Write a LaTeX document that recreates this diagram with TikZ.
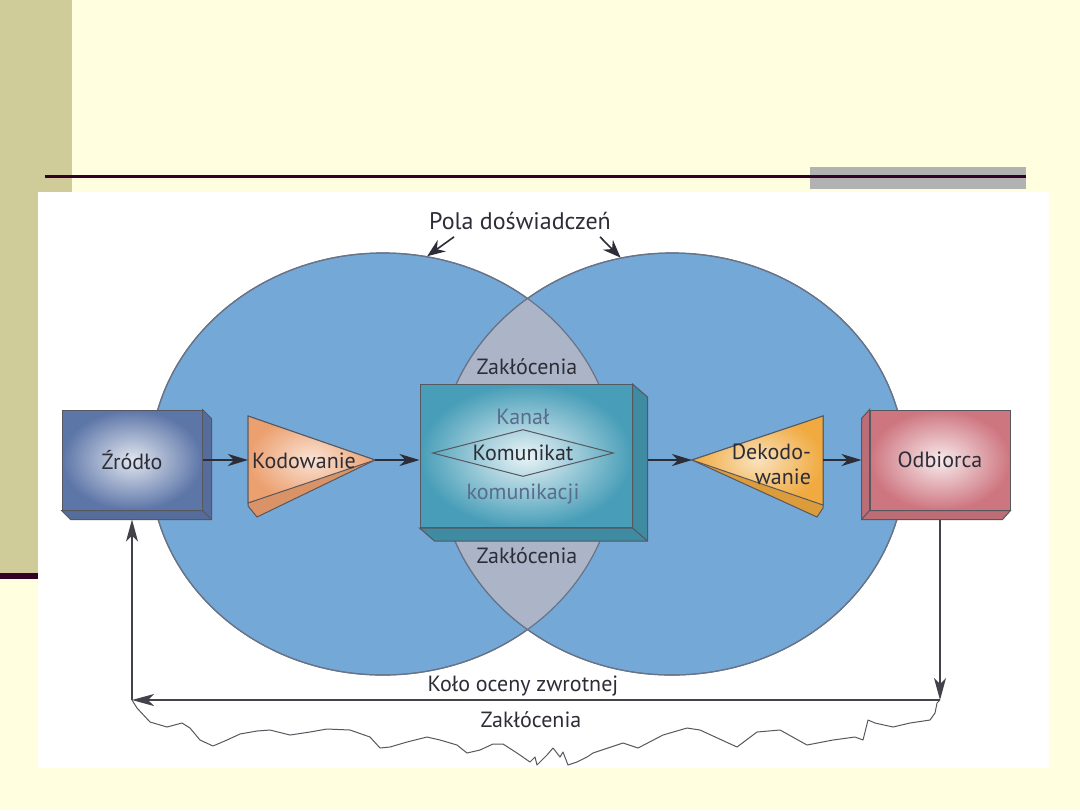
\documentclass[tikz,border=0pt]{standalone}
\usepackage{fontspec}
\setmainfont{PT Sans}
\definecolor{slidebg}{RGB}{255,255,224}
\definecolor{slidebar}{RGB}{207,204,154}
\definecolor{slideline}{RGB}{51,0,38}
\definecolor{slidegray}{RGB}{178,178,178}
\definecolor{fieldblue}{RGB}{116,168,215}
\definecolor{fieldlens}{RGB}{172,181,199}
\definecolor{fieldedge}{RGB}{105,115,135}
\definecolor{inkdark}{RGB}{45,45,55}
\definecolor{srcblue}{RGB}{93,118,168}
\definecolor{chanteal}{RGB}{72,158,184}
\definecolor{recvrose}{RGB}{206,118,128}
\definecolor{encorange}{RGB}{236,160,112}
\definecolor{decgold}{RGB}{240,170,64}
\definecolor{chantext}{RGB}{88,108,140}
\usetikzlibrary{shapes, arrows.meta, positioning, calc}

\begin{document}
\begin{tikzpicture}[x=0.5pt, y=-0.5pt,
    font=\fontsize{11}{12.5}\selectfont, text=inkdark,
    field/.style={ellipse, minimum width=233pt, minimum height=211pt,
        fill=fieldblue, draw=fieldedge, line width=0.6pt},
    block/.style={rectangle, draw=inkdark!80, line width=0.5pt, inner sep=0pt},
    depth/.style={draw=inkdark!80, line width=0.5pt},
    conn/.style={-{Stealth[length=10pt, width=6pt, inset=3pt]}, draw=inkdark, line width=0.6pt},
    ptr/.style={-{Stealth[length=9pt, width=7pt, inset=3pt]}, draw=inkdark, line width=0.8pt},
    fb/.style={-{Stealth[length=11pt, width=6pt, inset=3pt]}, draw=inkdark!90, line width=0.6pt},
    noise/.style={draw=inkdark!80, line width=0.5pt, line join=round}]

    % slide background
    \fill[slidebg] (0,0) rectangle (1080,810);
    \fill[slidebar] (0,0) rectangle (72,192);
    \fill[slidebar] (0,192) rectangle (38,573);
    \fill[slideline] (0,573) rectangle (38,579);
    \fill[white] (38,192) rectangle (1049,768);
    \fill[slidegray] (810,167) rectangle (1026,189);
    \fill[slideline] (45,175) rectangle (1026,178);

    % fields of experience
    \node[field] (lfield) at (383,464) {};
    \node[field] (rfield) at (672,464) {};
    \begin{scope}
        \clip (lfield.center) ellipse [x radius=116.5pt, y radius=105.5pt];
        \fill[fieldlens] (rfield.center) ellipse [x radius=116.5pt, y radius=105.5pt];
    \end{scope}
    \draw[fieldedge, line width=0.6pt] (lfield.center) ellipse [x radius=116.5pt, y radius=105.5pt];
    \draw[fieldedge, line width=0.6pt] (rfield.center) ellipse [x radius=116.5pt, y radius=105.5pt];

    \node[font=\fontsize{12}{14}\selectfont] (pola) at (520,221) {Pola doświadczeń};
    \draw[ptr] ([xshift=-33pt]pola.south) -- (lfield.78);
    \draw[ptr] ([xshift=40pt]pola.south) -- (rfield.104);

    \node (zakTop) at (527,367) {Zakłócenia};
    \node (zakBot) at (527,556) {Zakłócenia};

    % source
    \node[block, minimum width=70pt, minimum height=50pt,
        inner color=srcblue!18!white, outer color=srcblue] (zrodlo) at (132,460) {Źródło};
    \fill[srcblue!92!black, depth] (zrodlo.north east) -- ++(9,9)
        -- ($(zrodlo.south east)+(9,9)$) -- ($(zrodlo.south west)+(9,9)$)
        -- (zrodlo.south west) -- (zrodlo.south east) -- cycle;
    \draw[depth] (zrodlo.south east) -- ++(9,9);

    % encoder
    \fill[encorange!92!black, depth] (248,416) -- (375,460) -- (257,517) -- (248,506) -- cycle;
    \shade[inner color=encorange!30!white, outer color=encorange, depth]
        (248,416) -- (375,460) -- (248,503) -- cycle;
    \coordinate (kodL) at (248,460);
    \coordinate (kodR) at (375,460);
    \node (kodowanie) at (304,461) {Kodowanie};

    % channel
    \node[block, minimum width=106pt, minimum height=71.5pt,
        inner color=chanteal!12!white, outer color=chanteal] (kanal) at (526,456) {};
    \fill[chanteal!88!black, depth] (kanal.north east) -- ++(15,13)
        -- ($(kanal.south east)+(15,13)$) -- ($(kanal.south west)+(15,13)$)
        -- (kanal.south west) -- (kanal.south east) -- cycle;
    \draw[depth] (kanal.south east) -- ++(15,13);
    \node[text=chantext] (kanalTop) at (523,417) {Kanał};
    \node[diamond, draw=inkdark!80, line width=0.5pt, aspect=3.85, inner sep=0pt,
        minimum width=90.5pt, minimum height=23.5pt] (komunikat) at (523,453) {Komunikat};
    \node[text=chantext] (kanalBot) at (523,494) {komunikacji};

    % decoder
    \fill[decgold!92!black, depth] (692,460) -- (823,416) -- (823,508) -- (817,517) -- cycle;
    \shade[inner color=decgold!35!white, outer color=decgold, depth]
        (692,460) -- (823,416) -- (823,505) -- cycle;
    \coordinate (dekL) at (692,460);
    \coordinate (dekR) at (823,460);
    \node[align=right, anchor=east] (dekodowanie) at (818,464) {Dekodo-\\wanie};

    % receiver
    \node[block, minimum width=70pt, minimum height=50pt,
        inner color=recvrose!15!white, outer color=recvrose] (odbiorca) at (940,460) {Odbiorca};
    \fill[recvrose!92!black, depth] (odbiorca.north west) -- ++(-8,9)
        -- ($(odbiorca.south west)+(-8,9)$) -- ($(odbiorca.south east)+(-8,9)$)
        -- (odbiorca.south east) -- (odbiorca.south west) -- cycle;
    \draw[depth] (odbiorca.south west) -- ++(-8,9);

    % message flow
    \draw[conn] (zrodlo.east) -- (kodL);
    \draw[conn] (kodR) -- (kodR -| kanal.west);
    \draw[conn] ([xshift=7.5pt]kanal.east |- dekL) -- (dekL);
    \draw[conn] (dekR) -- ([xshift=-4pt]odbiorca.west);

    % feedback loop
    \coordinate (fbR) at (940,700);
    \coordinate (fbL) at (zrodlo.south |- fbR);
    \coordinate (srcfoot) at ([yshift=-4.5pt]zrodlo.south);
    \draw[fb] ([yshift=-4.5pt]odbiorca.south) -- (fbR);
    \draw[fb] (fbR) -- (fbL);
    \draw[fb] (fbL) -- (srcfoot);
    \node (kolo) at (523,686) {Koło oceny zwrotnej};
    \node (zakNoise) at (531,720) {Zakłócenia};

    % noise
    \draw[noise] (fbL) -- (137,708) -- (150,722) -- (167,727) -- (182,723) -- (190,728)
        -- (200,740) -- (213,746) -- (227,740) -- (240,734) -- (257,731) -- (270,730)
        -- (290,735) -- (310,732) -- (327,729) -- (350,730) -- (370,737) -- (380,748)
        -- (390,747) -- (407,742) -- (427,737) -- (440,740) -- (457,745) -- (467,753)
        -- (480,750) -- (493,744) -- (503,744) -- (517,753) -- (530,762) -- (535,757)
        -- (537,765) -- (547,755) -- (553,748) -- (560,757) -- (563,752) -- (568,765)
        -- (577,762) -- (587,757) -- (593,753) -- (623,743) -- (638,748) -- (663,735)
        -- (687,728) -- (700,730) -- (737,747) -- (757,732) -- (780,730) -- (807,745)
        -- (833,740) -- (855,737) -- (863,740) -- (868,720) -- (875,723) -- (893,727)
        -- (910,723) -- (930,720) -- (935,713) -- (937,703) -- (fbR);
\end{tikzpicture}
\end{document}
